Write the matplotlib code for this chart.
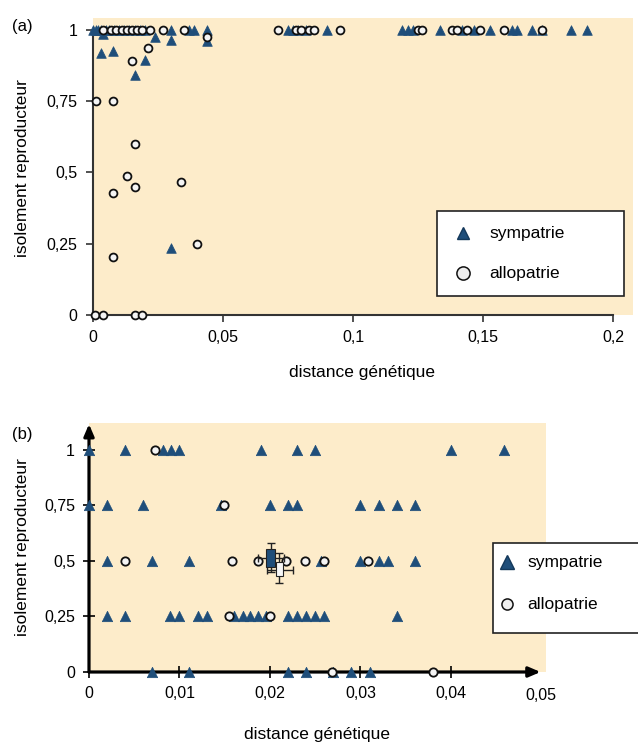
import matplotlib.pyplot as plt
from matplotlib.patches import Rectangle
from matplotlib.lines import Line2D

plt.rcParams['font.family'] = ['Liberation Sans', 'DejaVu Sans']

# ---- donnees panneau (a) ----
a_sym_x = [0.000, 0.001, 0.002, 0.003, 0.005, 0.006, 0.008, 0.010, 0.012, 0.014,
           0.016, 0.018, 0.020, 0.004, 0.024, 0.030, 0.030, 0.037, 0.039, 0.044,
           0.044, 0.003, 0.0077, 0.016, 0.020, 0.030,
           0.075, 0.077, 0.079, 0.082, 0.090,
           0.119, 0.121, 0.123, 0.1335, 0.142, 0.1465, 0.1527, 0.161, 0.163,
           0.169, 0.1727, 0.184, 0.190]
a_sym_y = [1, 1, 1, 1, 1, 1, 1, 1, 1, 1,
           1, 1, 1, 0.985, 0.975, 1, 0.965, 1, 1, 1,
           0.96, 0.92, 0.926, 0.842, 0.895, 0.235,
           1, 1, 1, 1, 1,
           1, 1, 1, 1, 1, 1, 1, 1, 1,
           1, 1, 1, 1]
a_allo_x = [0.004, 0.007, 0.009, 0.011, 0.013, 0.015, 0.017, 0.019, 0.022, 0.027,
            0.035, 0.044, 0.015, 0.021, 0.001, 0.0077, 0.016, 0.013, 0.016, 0.0077,
            0.034, 0.040, 0.0077, 0.0007, 0.004, 0.016, 0.019,
            0.071, 0.078, 0.080, 0.083, 0.085, 0.095,
            0.125, 0.1265, 0.138, 0.140, 0.144, 0.149, 0.158, 0.1727]
a_allo_y = [1, 1, 1, 1, 1, 1, 1, 1, 1, 1,
            1, 0.975, 0.891, 0.937, 0.75, 0.75, 0.60, 0.488, 0.449, 0.428,
            0.467, 0.249, 0.204, 0, 0, 0, 0,
            1, 1, 1, 1, 1, 1,
            1, 1, 1, 1, 1, 1, 1, 1]

# ---- donnees panneau (b) ----
b_sym_x = [0.000, 0.004, 0.0082, 0.0091, 0.0099, 0.019, 0.023, 0.025, 0.040, 0.0459,
           0.000, 0.002, 0.006, 0.0146, 0.020, 0.022, 0.023, 0.030, 0.032, 0.034, 0.036,
           0.002, 0.007, 0.011, 0.0256, 0.030, 0.032, 0.033, 0.036,
           0.002, 0.004, 0.009, 0.010, 0.012, 0.013, 0.016, 0.017, 0.0178, 0.0187,
           0.0196, 0.022, 0.023, 0.024, 0.025, 0.026, 0.034,
           0.007, 0.011, 0.022, 0.024, 0.027, 0.029, 0.031]
b_sym_y = [1] * 10 + [0.75] * 11 + [0.5] * 8 + [0.25] * 17 + [0] * 7
b_allo_x = [0.0073, 0.0149,
            0.004, 0.0158, 0.0187, 0.0218, 0.0239, 0.026, 0.0308,
            0.0155, 0.020,
            0.0269, 0.038]
b_allo_y = [1, 0.75, 0.5, 0.5, 0.5, 0.5, 0.5, 0.5, 0.5, 0.25, 0.25, 0, 0]

# moyennes +/- erreur (b)
moy_sym = dict(x=0.0201, y=0.515, x_bas=0.0187, x_haut=0.0216,
               y_bas=0.45, y_haut=0.58, box_x=(0.0196, 0.0206), box_y=(0.473, 0.554))
moy_allo = dict(x=0.0210, y=0.46, x_bas=0.0197, x_haut=0.0225,
                y_bas=0.40, y_haut=0.535, box_x=(0.0207, 0.0214), box_y=(0.432, 0.495))

fond = '#fdecca'
bleu = '#1f4e7a'
W, H = 638, 743

fig = plt.figure(figsize=(W / 100, H / 100), dpi=100)


def fx(px):
    return px / W


def fy(py):
    return 1 - py / H


def legende(x0, y0, x1, y1, mx, ty, tx, ms_tri, ms_cer):
    fig.add_artist(Rectangle((fx(x0), fy(y1)), fx(x1) - fx(x0), fy(y0) - fy(y1),
                             transform=fig.transFigure, facecolor='white',
                             edgecolor='#222222', lw=1.2, zorder=10))
    fig.add_artist(Line2D([fx(mx)], [fy(ty[0])], marker='^', ms=ms_tri, color=bleu,
                          mec='#14385a', transform=fig.transFigure, zorder=11))
    fig.add_artist(Line2D([fx(mx)], [fy(ty[1])], marker='o', ms=ms_cer, mfc='#eeeeee',
                          mec='#111111', mew=1.1, transform=fig.transFigure, zorder=11))
    fig.text(fx(tx), fy(ty[0]), 'sympatrie', fontsize=12.5, va='center', zorder=12)
    fig.text(fx(tx), fy(ty[1]), 'allopatrie', fontsize=12.5, va='center', zorder=12)


# ================= (a) =================
ax1 = fig.add_axes([fx(93), fy(315), fx(633) - fx(93), fy(18) - fy(315)])
ax1.set_facecolor(fond)
ax1.set_xlim(0, 0.2077)
ax1.set_ylim(0, 1.042)
ax1.scatter(a_sym_x, a_sym_y, marker='^', s=48, color=bleu, edgecolors=bleu,
            linewidths=0.5, zorder=3, clip_on=False)
ax1.scatter(a_allo_x, a_allo_y, marker='o', s=32, facecolors='#f4f4f4',
            edgecolors='#111111', linewidths=1.3, zorder=4, clip_on=False)
for s in ['top', 'right']:
    ax1.spines[s].set_visible(False)
for s in ['left', 'bottom']:
    ax1.spines[s].set_color('#333333')
    ax1.spines[s].set_linewidth(1.5)
ax1.spines['left'].set_bounds(0, 1)
ax1.spines['bottom'].set_bounds(0, 0.2)
ax1.set_xticks([0, 0.05, 0.1, 0.15, 0.2])
ax1.set_xticklabels(['0', '0,05', '0,1', '0,15', '0,2'])
ax1.set_yticks([0, 0.25, 0.5, 0.75, 1])
ax1.set_yticklabels(['0', '0,25', '0,5', '0,75', '1'])
ax1.tick_params(direction='out', length=5, width=1.2, color='#333333',
                labelsize=11.5, pad=6)
fig.text(fx(362), fy(373), 'distance génétique', fontsize=12.5, ha='center', va='center')
fig.text(fx(23), fy(168), 'isolement reproducteur', fontsize=12.5, ha='center',
         va='center', rotation=90)
fig.text(fx(22), fy(26), '(a)', fontsize=12, ha='center', va='center')
legende(437, 211, 624, 296, 463, (233, 273), 489, 9, 9.5)

# ================= (b) =================
ax2 = fig.add_axes([fx(89), fy(672), fx(546) - fx(89), fy(423) - fy(672)])
ax2.set_facecolor(fond)
ax2.set_xlim(0, 0.0505)
ax2.set_ylim(0, 1.12)
for s in ax2.spines.values():
    s.set_visible(False)
ax2.scatter(b_sym_x, b_sym_y, marker='^', s=56, color=bleu, edgecolors=bleu,
            linewidths=0.5, zorder=3, clip_on=False)
ax2.scatter(b_allo_x, b_allo_y, marker='o', s=36, facecolors='#f4f4f4',
            edgecolors='#111111', linewidths=1.3, zorder=4, clip_on=False)

for m, couleur in [(moy_sym, bleu), (moy_allo, '#f7f7f7')]:
    ax2.errorbar([m['x']], [m['y']],
                 xerr=[[m['x'] - m['x_bas']], [m['x_haut'] - m['x']]],
                 yerr=[[m['y'] - m['y_bas']], [m['y_haut'] - m['y']]],
                 fmt='none', ecolor='#222222', elinewidth=1.0, capsize=3, zorder=5)
    ax2.add_patch(Rectangle((m['box_x'][0], m['box_y'][0]),
                            m['box_x'][1] - m['box_x'][0], m['box_y'][1] - m['box_y'][0],
                            facecolor=couleur, edgecolor='#222222', lw=0.8, zorder=6))

ax2.annotate('', xy=(0.0499, 0), xytext=(0, 0), annotation_clip=False,
             arrowprops=dict(arrowstyle='-|>,head_length=0.7,head_width=0.3',
                             lw=2.3, color='black', shrinkA=0, shrinkB=0), zorder=2)
ax2.annotate('', xy=(0, 1.115), xytext=(0, 0), annotation_clip=False,
             arrowprops=dict(arrowstyle='-|>,head_length=0.7,head_width=0.3',
                             lw=2.3, color='black', shrinkA=0, shrinkB=0), zorder=2)
ax2.set_xticks([0, 0.01, 0.02, 0.03, 0.04])
ax2.set_xticklabels(['0', '0,01', '0,02', '0,03', '0,04'])
ax2.set_yticks([0, 0.25, 0.5, 0.75, 1])
ax2.set_yticklabels(['0', '0,25', '0,5', '0,75', '1'])
ax2.tick_params(direction='inout', length=8, width=1.2, color='black',
                labelsize=11.5, pad=6)
fig.text(fx(541), fy(695), '0,05', fontsize=11.5, ha='center', va='center')
fig.text(fx(317), fy(735), 'distance génétique', fontsize=12.5, ha='center', va='center')
fig.text(fx(23), fy(547), 'isolement reproducteur', fontsize=12.5, ha='center',
         va='center', rotation=90)
fig.text(fx(22), fy(434), '(b)', fontsize=12, ha='center', va='center')
legende(493, 543, 645, 633, 507, (562, 604), 527, 10.5, 8)

plt.savefig('out.png', dpi=100)
